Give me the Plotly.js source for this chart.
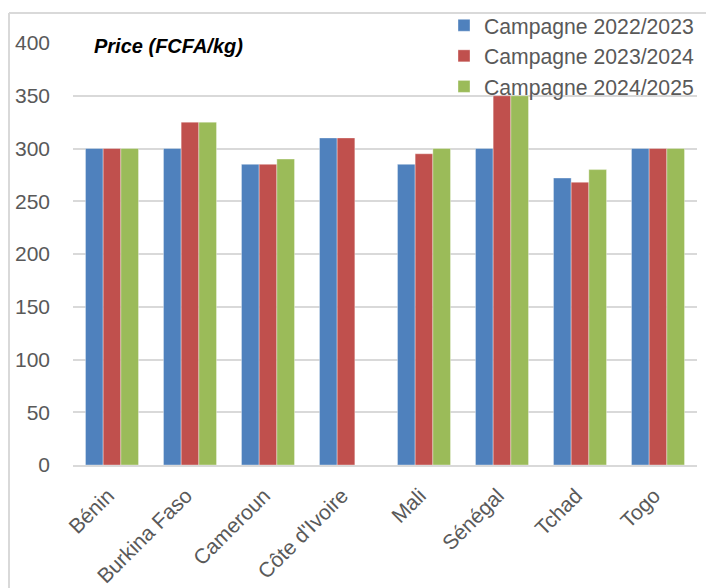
<!DOCTYPE html>
<html>
<head>
<meta charset="utf-8">
<script src="https://cdn.plot.ly/plotly-3.0.1.min.js"></script>
<style>
  html, body { margin: 0; padding: 0; background: #ffffff; }
  #chart { width: 706px; height: 588px; }
</style>
</head>
<body>
<div id="chart"></div>
<script>
const countries = ["Bénin", "Burkina Faso", "Cameroun", "Côte d'Ivoire", "Mali", "Sénégal", "Tchad", "Togo"];
const seriesNames = ["Campagne 2022/2023", "Campagne 2023/2024", "Campagne 2024/2025"];
const campagne2022 = [300, 300, 285, 310, 285, 300, 272, 300];
const campagne2023 = [300, 325, 285, 310, 295, 350, 268, 300];
const campagne2024 = [300, 325, 290, null, 300, 350, 280, 300];
const yTicks = [0, 50, 100, 150, 200, 250, 300, 350, 400];
const colors = ["#4f81bd", "#c0504d", "#9bbb59"];
const chartTitle = "Price (FCFA/kg)";

const W = 706, H = 588;
const M = { l: 73, r: 9, t: 43, b: 123, autoexpand: false };
const plotW = W - M.l - M.r, plotH = H - M.t - M.b;
const px = x => (x - M.l) / plotW;            // pixel -> paper x
const py = y => (H - M.b - y) / plotH;        // pixel -> paper y

const values = [campagne2022, campagne2023, campagne2024];
const traces = values.map((v, i) => ({
  type: 'bar',
  name: seriesNames[i],
  x: countries,
  y: v,
  marker: { color: colors[i], line: { color: 'rgba(255,255,255,0.6)', width: 0.6 } },
  hoverinfo: 'x+y+name'
}));

const grey = '#595959';
const layout = {
  width: W, height: H,
  margin: M,
  paper_bgcolor: '#ffffff',
  plot_bgcolor: '#ffffff',
  barmode: 'group',
  bargap: 0.32,
  bargroupgap: 0,
  font: { family: 'Liberation Sans, Arial, sans-serif', size: 21, color: grey },
  xaxis: {
    type: 'category',
    tickangle: -45,
    showgrid: false,
    showline: true,
    linecolor: '#d9d9d9',
    linewidth: 2,
    ticks: '',
    ticklabelstandoff: 8,
    ticklabelshift: -4,
    tickfont: { size: 21, color: grey },
    zeroline: false,
    automargin: false
  },
  yaxis: {
    range: [0, 400],
    tickvals: yTicks,
    ticktext: yTicks.map(String),
    showgrid: true,
    gridcolor: '#d9d9d9',
    gridwidth: 2,
    zeroline: false,
    showline: false,
    ticks: '',
    ticklabelstandoff: 22,
    tickfont: { size: 21, color: grey },
    automargin: false
  },
  legend: {
    x: px(699), xanchor: 'right',
    y: py(5), yanchor: 'top',
    bgcolor: 'rgba(0,0,0,0)',
    font: { size: 21.2, color: grey },
    traceorder: 'normal'
  },
  shapes: [
    { type: 'rect', xref: 'paper', yref: 'paper', layer: 'above',
      x0: px(73), x1: px(281), y0: py(46), y1: py(40),
      fillcolor: '#ffffff', line: { width: 0 } },
    { type: 'line', xref: 'paper', yref: 'paper',
      x0: px(9), x1: px(720), y0: py(13), y1: py(13),
      line: { color: '#d9d9d9', width: 2 } },
    { type: 'line', xref: 'paper', yref: 'paper',
      x0: px(9), x1: px(9), y0: py(13), y1: py(600),
      line: { color: '#d9d9d9', width: 2 } }
  ],
  annotations: [
    { text: '<b><i>' + chartTitle + '</i></b>', xref: 'paper', yref: 'paper',
      x: px(92), y: py(46), xanchor: 'left', yanchor: 'middle', showarrow: false,
      font: { size: 20, color: '#000000' } }
  ],
  showlegend: true
};

Plotly.newPlot('chart', traces, layout, { displayModeBar: false, staticPlot: true });
</script>
</body>
</html>
